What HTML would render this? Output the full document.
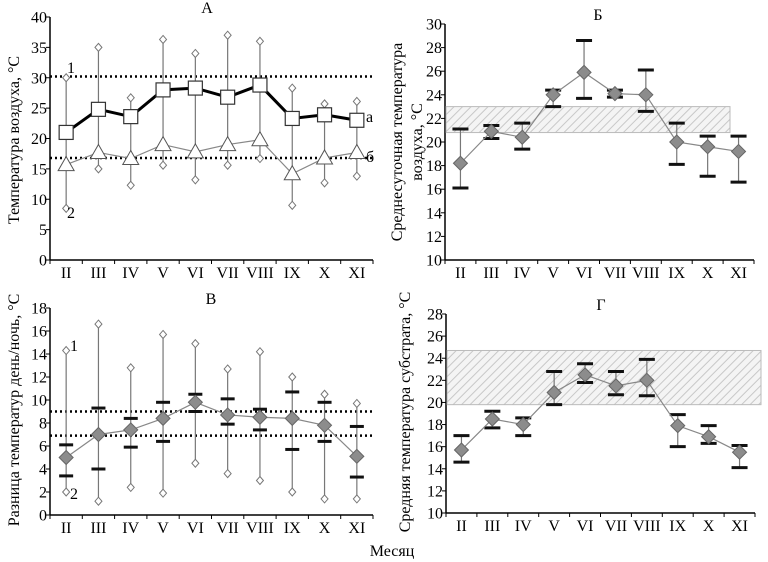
<!DOCTYPE html>
<html><head><meta charset="utf-8"><style>
body{margin:0;background:#fff}
svg{display:block;font-family:"Liberation Serif",serif}
</style></head><body>
<svg id="c" width="768" height="562" viewBox="0 0 768 562" xmlns="http://www.w3.org/2000/svg">
<defs>
<pattern id="hatch" width="6" height="6" patternUnits="userSpaceOnUse" patternTransform="rotate(45)">
<rect width="6" height="6" fill="#f4f4f4"/><line x1="0" y1="0" x2="0" y2="6" stroke="#c8c8c8" stroke-width="2"/>
</pattern>
</defs>
</svg>
<script>
const months=["II","III","IV","V","VI","VII","VIII","IX","X","XI"];
// Panel A
const aMean=[21,24.8,23.6,28,28.3,26.8,28.8,23.3,23.9,23];
const aMin=[15.7,17.7,16.7,19,17.8,19,19.8,14.2,16.8,17.7];
const aHi=[30,35,26.7,36.3,34,37,36,28.3,25.7,26.1];
const aLo=[8.5,15,12.3,15.6,13.2,15.6,16.7,9,12.7,13.8];
const aRef=[30.2,16.8];
const aTicks=[0,5,10,15,20,25,30,35,40];
// Panel B
const bMean=[18.2,20.9,20.4,24,25.9,24.1,24,20,19.6,19.2];
const bUp=[21.1,21.4,21.6,24.4,28.6,24.4,26.1,21.6,20.5,20.5];
const bLow=[16.1,20.3,19.4,23,23.7,23.8,22.6,18.1,17.1,16.6];
const bBand=[20.8,23.0];
const bTicks=[10,12,14,16,18,20,22,24,26,28,30];
// Panel C
const cMean=[5,7,7.4,8.4,9.8,8.7,8.5,8.4,7.8,5.1];
const cHi=[14.3,16.6,12.8,15.7,14.9,12.7,14.2,12,10.5,9.7];
const cLo=[2,1.2,2.4,1.9,4.5,3.6,3,2,1.4,1.4];
const cUp=[6.1,9.3,8.4,9.8,10.5,10.1,9.2,10.7,9.8,7.7];
const cLow=[3.4,4,5.9,6.4,9,7.9,7.4,5.7,6.4,3.3];
const cRef=[9,6.9];
const cTicks=[0,2,4,6,8,10,12,14,16,18];
// Panel D
const dMean=[15.7,18.5,18,20.9,22.5,21.5,22,17.9,16.9,15.5];
const dUp=[17,19.2,18.6,22.8,23.5,22.8,23.9,18.9,17.9,16.1];
const dLow=[14.6,17.7,17,19.8,21.8,20.7,20.6,16,16.3,14.1];
const dBand=[19.8,24.7];
const dTicks=[10,12,14,16,18,20,22,24,26,28];

const svg=document.getElementById('c');
const NS="http://www.w3.org/2000/svg";
function el(tag,attrs,parent,text){const e=document.createElementNS(NS,tag);for(const k in attrs)e.setAttribute(k,attrs[k]);if(text!==undefined)e.textContent=text;(parent||svg).appendChild(e);return e;}

function makeAxes(cfg){
  const g=el('g',{});
  
  
  const x=i=>cfg.x0+cfg.step*(i+0.5);
  const y=v=>cfg.yb-(v-cfg.ymin)/(cfg.ymax-cfg.ymin)*(cfg.yb-cfg.yt);
  const ax=el('g',{},g);
  
  
  el('line',{x1:cfg.x0,y1:cfg.yt,x2:cfg.x0,y2:cfg.yb,stroke:'#000','stroke-width':1.5},ax);
  el('line',{x1:cfg.x0,y1:cfg.yb,x2:cfg.x0+cfg.step*10,y2:cfg.yb,stroke:'#000','stroke-width':1.5},ax);
  cfg.ticks.forEach(t=>{
    el('line',{x1:cfg.x0-4,y1:y(t),x2:cfg.x0,y2:y(t),stroke:'#000'},ax);
    const tl=el('text',{x:cfg.x0-3,y:y(t)+5.5,'text-anchor':'end','font-size':16},ax,String(t));
    
    
  });
  for(let i=0;i<=10;i++) el('line',{x1:cfg.x0+cfg.step*i,y1:cfg.yb,x2:cfg.x0+cfg.step*i,y2:cfg.yb+4,stroke:'#000'},ax);
  months.forEach((m,i)=>{
    const tl=el('text',{x:x(i),y:cfg.yb+18,'text-anchor':'middle','font-size':16},ax,m);
    
    
  });
  const tt=el('text',{x:cfg.titleX,y:cfg.yt-4,'text-anchor':'middle','font-size':16},g,cfg.title);
  
  
  cfg.ylabel.forEach((s,k)=>{
    const yl=el('text',{transform:`translate(${cfg.ylx[k]},${cfg.yly}) rotate(-90)`,'text-anchor':'middle','font-size':16},g,s);
    
    
  });
  return {g,x,y};
}
function band(P,cfg,vals){
  const r=el('rect',{x:cfg.x0+1,y:P.y(vals[1]),width:cfg.bandW,height:P.y(vals[0])-P.y(vals[1]),fill:'url(#hatch)',stroke:'#bbb'},P.g);
  
  
}
function refLine(P,cfg,v){
  const l=el('line',{x1:cfg.x0,x2:cfg.x0+cfg.step*10,y1:P.y(v),y2:P.y(v),stroke:'#000','stroke-width':2.5,'stroke-dasharray':'2,3'},P.g);
  
  
}
function whisker(P,i,lo,hi,name){
  const l=el('line',{x1:P.x(i),x2:P.x(i),y1:P.y(lo),y2:P.y(hi),stroke:'#777','stroke-width':1.2},P.g);
  
  
}
function smallDiamond(P,i,v){
  const cx=P.x(i),cy=P.y(v);
  const d=el('polygon',{points:`${cx},${cy-4} ${cx+3.5},${cy} ${cx},${cy+4} ${cx-3.5},${cy}`,fill:'#fff',stroke:'#777'},P.g);
  
  
}
function cap(P,i,v,w){
  const c=el('line',{x1:P.x(i)-w/2,x2:P.x(i)+w/2,y1:P.y(v),y2:P.y(v),stroke:'#111','stroke-width':3},P.g);
  
  
}
function meanLine(P,arr,color,width,name){
  const l=el('polyline',{points:arr.map((v,i)=>P.x(i)+','+P.y(v)).join(' '),fill:'none',stroke:color,'stroke-width':width},P.g);
  
  
}
function bigDiamond(P,i,v){
  const cx=P.x(i),cy=P.y(v);
  const d=el('polygon',{points:`${cx},${cy-7} ${cx+7},${cy} ${cx},${cy+7} ${cx-7},${cy}`,fill:'#8c8c8c',stroke:'#666'},P.g);
  
  
}
function lbl(P,x,y,t){
  const e=el('text',{x,y,'font-size':16},P.g,t);
  
  
}

// Panel A
const cfgA={name:'panel-a',x0:50,step:32.3,yt:17,yb:260,ymin:0,ymax:40,ticks:aTicks,title:'А',titleX:207,ylabel:['Температура воздуха, °С'],ylx:[19],yly:140};
const PA=makeAxes(cfgA);
aRef.forEach(v=>refLine(PA,cfgA,v));
months.forEach((m,i)=>{whisker(PA,i,aLo[i],aHi[i],'range-whisker');smallDiamond(PA,i,aHi[i]);smallDiamond(PA,i,aLo[i]);});
meanLine(PA,aMin,'#888',1.2,'series-b-line');
aMin.forEach((v,i)=>{const cx=PA.x(i),cy=PA.y(v);const t=el('polygon',{points:`${cx},${cy-8} ${cx+8},${cy+6} ${cx-8},${cy+6}`,fill:'#fff',stroke:'#555'},PA.g);});
meanLine(PA,aMean,'#000',3,'series-a-line');
aMean.forEach((v,i)=>{const cx=PA.x(i),cy=PA.y(v);const r=el('rect',{x:cx-7,y:cy-7,width:14,height:14,fill:'#fff',stroke:'#333','stroke-width':1.2},PA.g);});
lbl(PA,67,73,'1');lbl(PA,67,218,'2');lbl(PA,366,122,'а');lbl(PA,366,162,'б');

// Panel B
const cfgB={name:'panel-b',x0:445,step:30.9,yt:24,yb:260,ymin:10,ymax:30,ticks:bTicks,title:'Б',titleX:598,ylabel:['Среднесуточная температура','воздуха, °С'],ylx:[402,422],yly:142,bandW:284};
const PB=makeAxes(cfgB);
band(PB,cfgB,bBand);
months.forEach((m,i)=>{whisker(PB,i,bLow[i],bUp[i],'error-bar');cap(PB,i,bUp[i],16);cap(PB,i,bLow[i],16);});
meanLine(PB,bMean,'#888',1.2,'mean-line');
bMean.forEach((v,i)=>bigDiamond(PB,i,v));

// Panel C
const cfgC={name:'panel-c',x0:50,step:32.3,yt:308,yb:515,ymin:0,ymax:18,ticks:cTicks,title:'В',titleX:211,ylabel:['Разница температур день/ночь, °С'],ylx:[19],yly:410};
const PC=makeAxes(cfgC);
cRef.forEach(v=>refLine(PC,cfgC,v));
months.forEach((m,i)=>{whisker(PC,i,cLo[i],cHi[i],'range-whisker');smallDiamond(PC,i,cHi[i]);smallDiamond(PC,i,cLo[i]);cap(PC,i,cUp[i],14);cap(PC,i,cLow[i],14);});
meanLine(PC,cMean,'#888',1.2,'mean-line');
cMean.forEach((v,i)=>bigDiamond(PC,i,v));
lbl(PC,70,351,'1');lbl(PC,70,499,'2');

// Panel D
const cfgD={name:'panel-d',x0:446,step:30.9,yt:314,yb:513,ymin:10,ymax:28,ticks:dTicks,title:'Г',titleX:601,ylabel:['Средняя температура субстрата, °С'],ylx:[410],yly:412,bandW:314};
const PD=makeAxes(cfgD);
band(PD,cfgD,dBand);
months.forEach((m,i)=>{whisker(PD,i,dLow[i],dUp[i],'error-bar');cap(PD,i,dUp[i],16);cap(PD,i,dLow[i],16);});
meanLine(PD,dMean,'#888',1.2,'mean-line');
dMean.forEach((v,i)=>bigDiamond(PD,i,v));

const xt=el('text',{x:392,y:556,'text-anchor':'middle','font-size':16},svg,'Месяц');


</script>
</body></html>
